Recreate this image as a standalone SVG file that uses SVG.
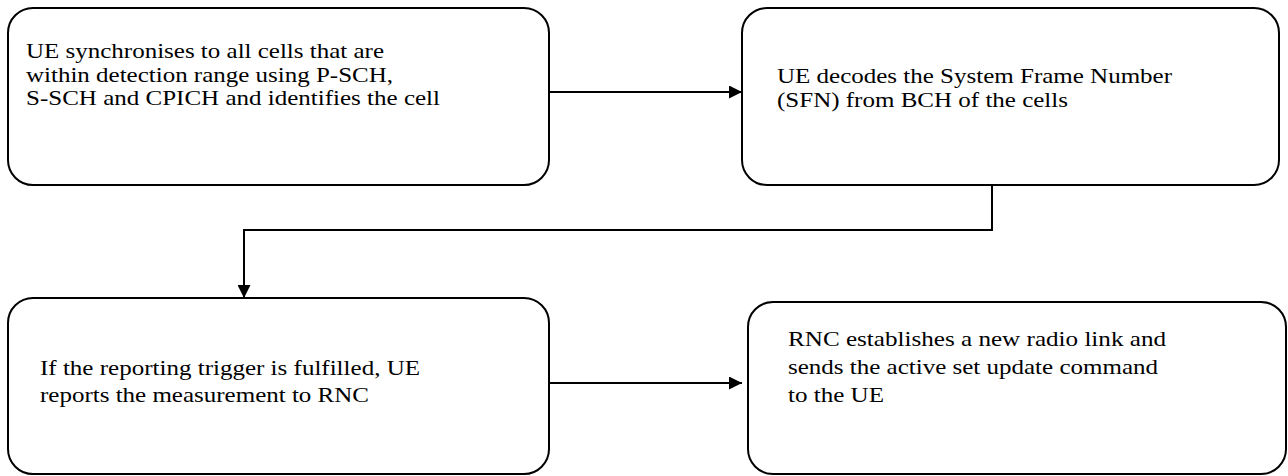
<svg xmlns="http://www.w3.org/2000/svg" width="1288" height="476" viewBox="0 0 1288 476">
<defs>
<style>
.box{fill:#fff;stroke:#000;stroke-width:2}
.t{font-family:"Liberation Serif","Times New Roman","DejaVu Serif",serif;font-size:22px;fill:#000}
.c{fill:none;stroke:#000;stroke-width:2}
</style>
<marker id="ah" viewBox="0 0 13 13" refX="13" refY="6.5" markerWidth="6.5" markerHeight="6.5" markerUnits="strokeWidth" orient="auto">
<path d="M0,0 L13,6.5 L0,13 z" fill="#000"/>
</marker>
</defs>
<rect width="1288" height="476" fill="#fff"/>
<g id="n1">
<rect class="box" x="8" y="8" width="541" height="177" rx="25"/>
<text class="t" x="26" y="58" textLength="358" lengthAdjust="spacingAndGlyphs">UE synchronises to all cells that are</text>
<text class="t" x="26" y="81.5" textLength="367" lengthAdjust="spacingAndGlyphs">within detection range using P-SCH,</text>
<text class="t" x="26" y="105" textLength="414" lengthAdjust="spacingAndGlyphs">S-SCH and CPICH and identifies the cell</text>
</g>
<g id="n2">
<rect class="box" x="742" y="8" width="537" height="177" rx="25"/>
<text class="t" x="777" y="83" textLength="395" lengthAdjust="spacingAndGlyphs">UE decodes the System Frame Number</text>
<text class="t" x="777" y="107" textLength="291" lengthAdjust="spacingAndGlyphs">(SFN) from BCH of the cells</text>
</g>
<g id="n3">
<rect class="box" x="8" y="298" width="541" height="176" rx="25"/>
<text class="t" x="40" y="375" textLength="380" lengthAdjust="spacingAndGlyphs">If the reporting trigger is fulfilled, UE</text>
<text class="t" x="40" y="402" textLength="329" lengthAdjust="spacingAndGlyphs">reports the measurement to RNC</text>
</g>
<g id="n4">
<rect class="box" x="748" y="302" width="538" height="172" rx="25"/>
<text class="t" x="788" y="346" textLength="378" lengthAdjust="spacingAndGlyphs">RNC establishes a new radio link and</text>
<text class="t" x="788" y="374" textLength="370" lengthAdjust="spacingAndGlyphs">sends the active set update command</text>
<text class="t" x="788" y="402" textLength="96" lengthAdjust="spacingAndGlyphs">to the UE</text>
</g>
<g id="connectors">
<line class="c" x1="549" y1="92" x2="742" y2="92" marker-end="url(#ah)"/>
<polyline class="c" points="992,185 992,230 244,230 244,298" marker-end="url(#ah)"/>
<line class="c" x1="549" y1="383" x2="742" y2="383" marker-end="url(#ah)"/>
</g>
</svg>
